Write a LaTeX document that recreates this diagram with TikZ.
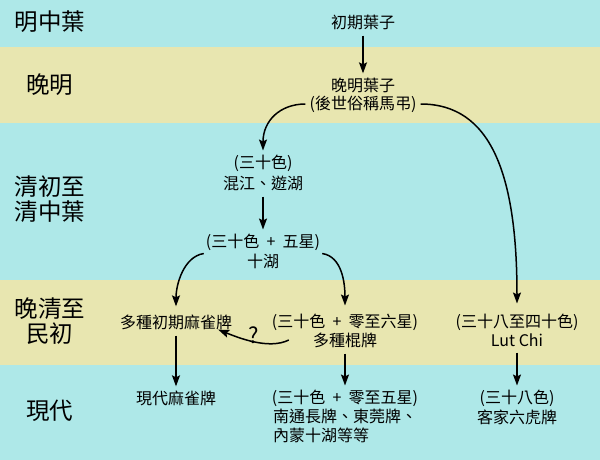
\documentclass[tikz,border=0pt]{standalone}
\usepackage{fontspec}
\usepackage{tikz}
\usetikzlibrary{positioning, arrows.meta, calc}
\newfontfamily\cjk{Noto Sans CJK TC}
\definecolor{bandblue}{RGB}{174, 232, 232}
\definecolor{bandsand}{RGB}{232, 230, 176}
\definecolor{darkink}{RGB}{0, 0, 0}

\tikzset{
  era/.style={font=\cjk\fontsize{23.5}{25}\selectfont, align=center, darkink},
  card/.style={font=\cjk\fontsize{16}{19}\selectfont, darkink, inner sep=2pt},
  flow/.style={-{Stealth[length=11pt, width=8pt, inset=2pt]}, line width=1.5pt, darkink},
}

\begin{document}
\begin{tikzpicture}[x=1pt, y=-1pt]

        % Bands
        \useasboundingbox (0,0) rectangle (600,460);
        \fill[bandblue] (0,0) rectangle (600,47);
        \fill[bandsand] (0,47) rectangle (600,123);
        \fill[bandblue] (0,123) rectangle (600,280);
        \fill[bandsand] (0,280) rectangle (600,365);
        \fill[bandblue] (0,365) rectangle (600,460);

        % Eras
        \node[era] (eraA) at (50,22) {明中葉};
        \node[era] (eraB) at (50,85) {晚明};
        \node[era] (eraC) at (50,199) {清初至\\清中葉};
        \node[era] (eraD) at (50,321) {晚清至\\民初};
        \node[era] (eraE) at (50,411) {現代};

        % Cards
        \node[card] (chuqi) at (363,22) {初期葉子};
        \node[card] (wanming) at (363,85) {晚明葉子};
        \node[card] (wmsub) at (363,104) {(後世俗稱馬弔)};
        \node[card] (sanshi) at (263,163) {(三十色)};
        \node[card] (hunjiang) at (263,183) {混江、遊湖};
        \node[card] (wuxing) at (263,242) {(三十色 ~+~ 五星)};
        \node[card] (shihu) at (263,261) {十湖};
        \node[card] (zaoqi) at (176,322) {多種初期麻雀牌};
        \node[card] (liuxing) at (345,322) {(三十色 ~+~ 零至六星)};
        \node[card] (gunpai) at (345,340) {多種棍牌};
        \node[card] (sishi) at (517,322) {(三十八至四十色)};
        \node[card] (lutchi) at (517,340) {Lut Chi};
        \node[card] (xiandai) at (176,398) {現代麻雀牌};
        \node[card] (wuxingB) at (345,398) {(三十色 ~+~ 零至五星)};
        \node[card, align=left, anchor=north] (nantong) at (345,407) {南通長牌、東莞牌、\\內蒙十湖等等};
        \node[card] (sanba) at (517,398) {(三十八色)};
        \node[card] (kejia) at (517,417) {客家六虎牌};
        \node[font=\cjk\fontsize{22}{24}\selectfont] (query) at (254,335) {?};

        % Connectors
        \draw[flow, shorten <=4pt] (chuqi) -- ([yshift=2pt]wanming.north);
        \draw[flow] ([xshift=-2pt]wmsub.west) .. controls +(-25,0) and +(0,-30) .. ([yshift=2pt]sanshi.north);
        \draw[flow] ([xshift=2pt]wmsub.east) .. controls +(70,0) and +(0,-130) .. ([yshift=8pt]sishi.north);
        \draw[flow, shorten <=4pt] (hunjiang) -- ([yshift=2pt]wuxing.north);
        \draw[flow] ([yshift=-1pt]wuxing.south west) .. controls +(-20,3) and +(0,-22) .. ([yshift=6pt]zaoqi.north);
        \draw[flow] ([yshift=-1pt]wuxing.south east) .. controls +(20,3) and +(0,-22) .. ([yshift=6pt]liuxing.north);
        \draw[flow] ([xshift=-22pt]gunpai.west) .. controls +(-20,10) and +(20,8) .. ([xshift=-16pt,yshift=2pt]zaoqi.south east);
        \draw[flow, shorten <=4pt] (zaoqi) -- ([yshift=2pt]xiandai.north);
        \draw[flow, shorten <=4pt] (gunpai) -- ([yshift=2pt]wuxingB.north);
        \draw[flow, shorten <=4pt] (lutchi) -- ([yshift=2pt]sanba.north);

    \end{tikzpicture}
\end{document}
